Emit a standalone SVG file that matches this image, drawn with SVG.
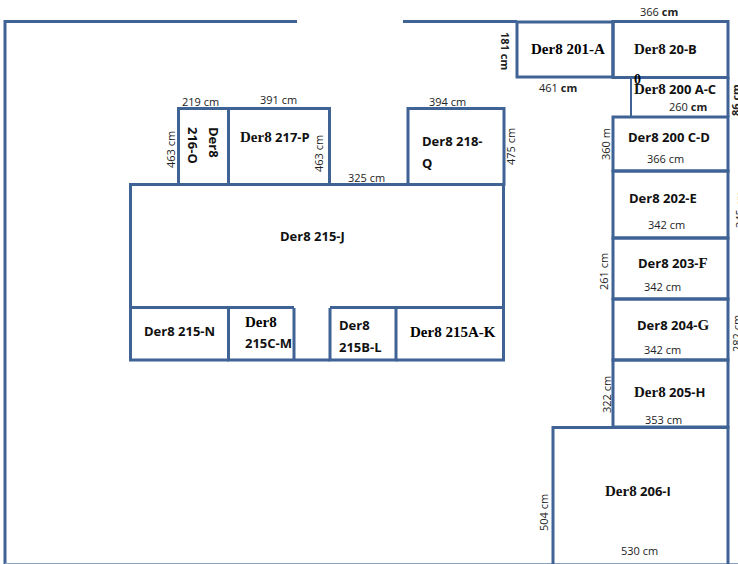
<svg xmlns="http://www.w3.org/2000/svg" width="738" height="564" viewBox="0 0 738 564">
<style>
.w{fill:none;stroke:#3f6395;stroke-width:3}
.d{font:11px "Open Sans","Liberation Sans",sans-serif;fill:#222}
.b{font:bold 13px "Open Sans","Liberation Sans",sans-serif;fill:#111}
.s{font-family:"Liberation Serif",serif;font-size:15px;font-weight:bold}
</style>
<rect width="738" height="564" fill="#fff"/>
<g id="connectors">
<path class="w" d="M297 21.500H5V564M403 21.500H517"/>
<path d="M5 563.500H738" fill="none" stroke="#8aa0bc" stroke-width="1"/>
</g>
<g id="n201A"><rect class="w" x="517" y="22" width="96" height="55"/><text class="s" x="531" y="54">Der8 201-A</text><text class="d" x="539" y="92">461 <tspan font-weight="bold">cm</tspan></text><text class="d" style="font-size:11px;font-weight:bold" transform="translate(501 32) rotate(90)">181 cm</text></g>
<g id="n20B"><rect class="w" x="613" y="21.500" width="115" height="56"/><text class="b" x="634" y="54"><tspan class="s">Der8</tspan> 20-B</text><text class="d" x="640" y="16">366 <tspan font-weight="bold">cm</tspan></text></g>
<g id="n200AC"><path class="w" style="stroke-width:2" d="M631 77V117"/><path class="w" d="M728 77V117"/><text class="s" x="634" y="84" style="font-size:14px">0</text><text class="b" x="634" y="94"><tspan class="s">Der8</tspan> 200 A-C</text><text class="d" x="669" y="111">260 <tspan font-weight="bold">cm</tspan></text><text class="d" style="font-weight:bold" transform="translate(740 116) rotate(-90)">86 cm</text></g>
<g id="n200CD"><rect class="w" x="613" y="117" width="115" height="54"/><text class="b" x="628" y="142">Der8 200 C-D</text><text class="d" x="647" y="163">366 cm</text><text class="d" transform="translate(610 160) rotate(-90)">360 m</text></g>
<g id="n202E"><rect class="w" x="613" y="171" width="115" height="67"/><text class="b" x="629" y="203">Der8 202-E</text><text class="d" x="648" y="229">342 cm</text><text class="d" transform="translate(744 228) rotate(-90)">345 cm</text></g>
<g id="n203F"><rect class="w" x="613" y="238" width="115" height="61"/><text class="b" x="638" y="268">Der8 203-<tspan class="s">F</tspan></text><text class="d" x="644" y="291">342 cm</text><text class="d" transform="translate(608 290) rotate(-90)">261 cm</text></g>
<g id="n204G"><rect class="w" x="613" y="299" width="115" height="61"/><text class="b" x="637" y="330">Der8 204-<tspan class="s">G</tspan></text><text class="d" x="644" y="354">342 cm</text><text class="d" transform="translate(741 352) rotate(-90)">282 cm</text></g>
<g id="n205H"><rect class="w" x="613" y="360" width="115" height="67"/><text class="b" x="634" y="397"><tspan class="s">Der8</tspan> 205-H</text><text class="d" x="645" y="424">353 cm</text><text class="d" transform="translate(611 413) rotate(-90)">322 cm</text></g>
<g id="n206I"><path class="w" d="M553 564V427.500H728V564"/><text class="b" x="605" y="496"><tspan class="s">Der8</tspan> 206-I</text><text class="d" x="621" y="555">530 cm</text><text class="d" transform="translate(548 531) rotate(-90)">504 cm</text></g>
<g id="n215J"><path class="w" d="M294 307.500H130.500V184.500H503.500V307.500H330"/><text class="b" x="280" y="241">Der8 215-J</text><text class="d" x="348" y="182">325 cm</text></g>
<g id="n216O"><rect class="w" x="178.500" y="108.500" width="50" height="76"/><g transform="translate(209 127) rotate(90)"><text class="b" x="0" y="0">Der8</text><text class="b" x="0" y="21">216-O</text></g><text class="d" x="182" y="106">219 cm</text><text class="d" transform="translate(175 168) rotate(-90)">463 cm</text></g>
<g id="n217P"><rect class="w" x="228.500" y="108.500" width="101" height="76"/><text class="b" x="240" y="142"><tspan class="s">Der8</tspan> 217-P</text><text class="d" x="260" y="104">391 cm</text><text class="d" transform="translate(323 172) rotate(-90)">463 cm</text></g>
<g id="n218Q"><rect class="w" x="408" y="108.500" width="96" height="76"/><text class="b" x="422" y="146">Der8 218-</text><text class="b" x="422" y="168">Q</text><text class="d" x="429" y="106">394 cm</text><text class="d" transform="translate(515 165) rotate(-90)">475 cm</text></g>
<g id="n215N"><path class="w" d="M130.500 308V360H228.500"/><text class="b" x="144" y="336">Der8 215-N</text></g>
<g id="n215CM"><path class="w" d="M228.500 308V360H294M294 308V360"/><text class="s" x="245" y="327">Der8</text><text class="b" x="245" y="348">215C-M</text></g>
<g id="corridor"><path class="w" d="M294 360H330"/></g>
<g id="n215BL"><path class="w" d="M330 308V360H396V308"/><text class="b" x="339" y="330">Der8</text><text class="b" x="339" y="352">215B-L</text></g>
<g id="n215AK"><path class="w" d="M396 360H503.500V307"/><text class="s" x="410" y="337">Der8 215A-K</text></g>
</svg>
